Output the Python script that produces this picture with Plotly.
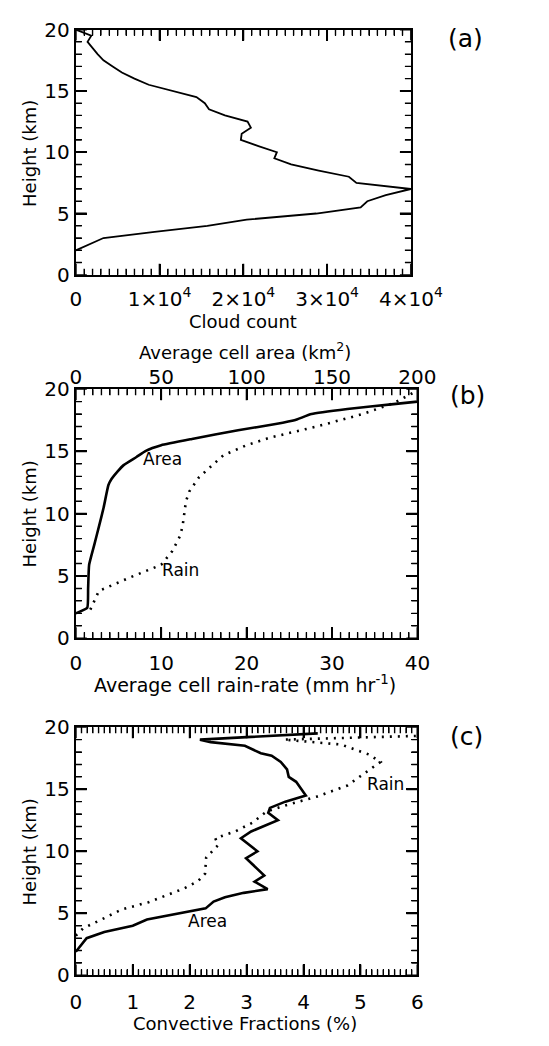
import plotly.graph_objects as go

# ---- data -------------------------------------------------------------
# (a) cloud count profile
a_height = [2.0, 2.5, 3.0, 3.5, 4.0, 4.5, 5.0, 5.5, 6.0, 6.5, 7.0, 7.5, 8.0,
            8.5, 9.0, 9.5, 10.0, 10.5, 11.0, 11.5, 12.0, 12.5, 13.0, 13.5,
            14.0, 14.5, 15.0, 15.5, 16.0, 16.5, 17.0, 17.5, 18.0, 18.5, 19.0,
            19.5, 20.0]
a_count = [0, 1700, 3300, 9400, 15700, 20400, 28700, 34000, 34800, 37000,
           40000, 33500, 32600, 29000, 25700, 23700, 24000, 21800, 19700,
           19800, 20900, 20500, 17800, 15900, 15400, 14400, 11600, 8700, 7000,
           5500, 4400, 3300, 2600, 2000, 1400, 1850, 0]

# (b) average cell area (top axis) and average cell rain-rate (bottom axis)
b_area_height = [2.0, 2.45, 4.0, 5.9, 7.5, 9.0, 10.5, 12.3, 12.8, 13.4, 13.9,
                 14.55, 15.05, 15.5, 16.0, 16.7, 17.2, 17.5, 18.0, 18.4, 18.8,
                 19.0]
b_area = [0.0, 6.7, 7.2, 7.8, 10.8, 13.6, 16.3, 19.1, 21.0, 24.5, 28.0,
          35.5, 41.0, 50.0, 68.0, 95.0, 117.0, 128.0, 138.0, 159.0, 186.0,
          200.0]

b_rain_height = [2.3, 3.0, 3.8, 4.9, 5.9, 7.0, 8.2, 9.0, 10.0, 11.0, 11.8,
                 12.9, 13.6, 14.7, 15.5, 16.1, 17.0, 18.0, 18.9, 19.7]
b_rain = [1.7, 2.2, 2.7, 6.4, 10.0, 11.3, 12.2, 12.5, 12.7, 12.9, 13.3,
          14.4, 15.5, 17.3, 20.0, 22.7, 28.2, 33.6, 37.3, 39.5]

# (c) convective fractions (%)
c_area_height = [1.9, 3.0, 3.5, 4.0, 4.5, 5.4, 5.95, 6.3, 6.65, 6.95, 7.55,
                 8.05, 9.45, 10.0, 11.05, 11.6, 12.5, 13.1, 13.5, 14.0, 14.5,
                 14.9, 15.6, 16.0, 16.6, 17.2, 17.7, 17.9, 18.5, 18.8, 19.0,
                 19.5]
c_area = [0.0, 0.19, 0.5, 1.0, 1.25, 2.28, 2.42, 2.62, 2.95, 3.37, 3.14, 3.31,
          2.99, 3.19, 2.9, 3.08, 3.55, 3.38, 3.41, 3.68, 4.04, 3.98, 3.87, 3.74,
          3.71, 3.6, 3.44, 3.25, 2.97, 2.37, 2.18, 4.25]

c_rain_height = [3.2, 3.8, 4.5, 5.3, 5.9, 7.0, 7.6, 8.2, 9.5, 10.5, 11.05,
                 11.6, 12.3, 13.2, 13.7, 14.4, 15.3, 16.2, 17.2, 17.8, 18.6,
                 19.0, 19.3]
c_rain = [0.0, 0.13, 0.45, 0.8, 1.28, 1.9, 2.15, 2.27, 2.29, 2.5, 2.45, 2.8,
          3.1, 3.35, 3.68, 4.23, 4.77, 5.05, 5.35, 5.15, 4.66, 3.66, 6.0]

count_ticks = [0, 10000, 20000, 30000, 40000]
count_labels = ["0", "1×10<sup>4</sup>", "2×10<sup>4</sup>",
                "3×10<sup>4</sup>", "4×10<sup>4</sup>"]

# ---- figure -----------------------------------------------------------
W, H = 549, 1046
FONT = "DejaVu Sans"
BLACK = "black"
DOTS = "2px,6px"
TICK_SIZE = 20
MAJOR_LEN, MINOR_LEN = 11, 6


def px(x):
    return x / W


def py(y):
    return 1 - y / H


fig = go.Figure()

fig.add_trace(go.Scatter(x=a_count, y=a_height, mode="lines",
                         line=dict(color=BLACK, width=1.8),
                         xaxis="x", yaxis="y", showlegend=False))
fig.add_trace(go.Scatter(x=b_area, y=b_area_height, mode="lines",
                         line=dict(color=BLACK, width=2.6, shape="spline",
                                   smoothing=0.4),
                         xaxis="x4", yaxis="y2", showlegend=False))
fig.add_trace(go.Scatter(x=b_rain, y=b_rain_height, mode="lines",
                         line=dict(color=BLACK, width=2.6, dash=DOTS),
                         xaxis="x2", yaxis="y2", showlegend=False))
fig.add_trace(go.Scatter(x=c_area, y=c_area_height, mode="lines",
                         line=dict(color=BLACK, width=2.6),
                         xaxis="x3", yaxis="y3", showlegend=False))
fig.add_trace(go.Scatter(x=c_rain, y=c_rain_height, mode="lines",
                         line=dict(color=BLACK, width=2.6, dash=DOTS),
                         xaxis="x3", yaxis="y3", showlegend=False))

x_dom_a = [px(75), px(435)]
x_dom_bc = [px(75), px(442)]


def minor(step):
    return dict(dtick=step, ticklen=MINOR_LEN, ticks="inside",
                tickcolor=BLACK, tickwidth=1.4)


fig.update_layout(
    width=W, height=H,
    margin=dict(l=0, r=0, t=0, b=0),
    paper_bgcolor="white", plot_bgcolor="white",
    xaxis=dict(domain=x_dom_a, anchor="y", range=[0, 40000],
               tickvals=count_ticks, ticktext=count_labels,
               ticklabelstandoff=5),
    yaxis=dict(domain=[py(269), py(18)], anchor="x", range=[0, 20], dtick=5),
    xaxis2=dict(domain=x_dom_bc, anchor="y2", range=[0, 40], dtick=10,
                ticklabelstandoff=6),
    yaxis2=dict(domain=[py(641), py(386)], anchor="x2", range=[0, 20],
                dtick=5),
    xaxis3=dict(domain=x_dom_bc, anchor="y3", range=[0, 6], dtick=1,
                ticklabelstandoff=8),
    yaxis3=dict(domain=[py(986), py(732)], anchor="x3", range=[0, 20],
                dtick=5),
    xaxis4=dict(overlaying="x2", anchor="y2", side="top", range=[0, 200],
                dtick=50, ticklabelstandoff=0),
)

# closed frame round each panel, with inward major and minor ticks
frame = dict(showline=True, linecolor=BLACK, linewidth=2, mirror="ticks",
             ticks="inside", ticklen=MAJOR_LEN, tickwidth=1.8,
             tickcolor=BLACK, showgrid=False, zeroline=False,
             tickfont=dict(family=FONT, size=TICK_SIZE, color=BLACK))
fig.update_xaxes(**frame)
fig.update_yaxes(**frame, minor=minor(1))
fig.layout.xaxis.minor = minor(1000)
fig.layout.xaxis2.minor = minor(1)
fig.layout.xaxis3.minor = minor(0.1)
fig.layout.xaxis4.update(showline=False, mirror=False, ticks="")


# the same tick marks laid down as shapes so they sit above the traces
def x_ticks(xref, yref, start, stop, step, major_every):
    n = int(round((stop - start) / step))
    for i in range(n + 1):
        v = start + i * step
        ln, wd = (MAJOR_LEN, 1.8) if i % major_every == 0 else (MINOR_LEN, 1.4)
        for anchor, sgn in ((0, 1), (1, -1)):
            fig.add_shape(type="line", xref=xref, yref=yref + " domain",
                          ysizemode="pixel", yanchor=anchor,
                          x0=v, x1=v, y0=0, y1=sgn * ln, layer="above",
                          line=dict(color=BLACK, width=wd))


def y_ticks(xref, yref, start, stop, step, major_every):
    n = int(round((stop - start) / step))
    for i in range(n + 1):
        v = start + i * step
        ln, wd = (MAJOR_LEN, 1.8) if i % major_every == 0 else (MINOR_LEN, 1.4)
        for anchor, sgn in ((0, 1), (1, -1)):
            fig.add_shape(type="line", xref=xref + " domain", yref=yref,
                          xsizemode="pixel", xanchor=anchor,
                          x0=0, x1=sgn * ln, y0=v, y1=v, layer="above",
                          line=dict(color=BLACK, width=wd))


x_ticks("x", "y", 0, 40000, 1000, 10)
y_ticks("x", "y", 0, 20, 1, 5)
x_ticks("x2", "y2", 0, 40, 1, 10)
y_ticks("x2", "y2", 0, 20, 1, 5)
x_ticks("x3", "y3", 0, 6, 0.1, 10)
y_ticks("x3", "y3", 0, 20, 1, 5)


def label(text, x, y, size=18, angle=0):
    fig.add_annotation(text=text, x=px(x), y=py(y), xref="paper",
                       yref="paper", showarrow=False, textangle=angle,
                       xanchor="center", yanchor="middle",
                       font=dict(family=FONT, size=size, color=BLACK))


# axis titles
label("Cloud count", 255, 317)
label("Average cell area (km<sup>2</sup>)", 257, 347)
label("Average cell rain-rate (mm hr<sup>-1</sup>)", 257, 688, size=19)
label("Convective Fractions (%)", 257, 1035)
for yc in (145, 514, 860):
    label("Height (km)", 25, yc, angle=-90)

# panel letters
label("(a)", 494, 27, size=25)
label("(b)", 496, 392, size=25)
label("(c)", 495, 742, size=25)

# curve labels
label("Area", 168, 457, size=17)
label("Rain", 187, 571, size=17)
label("Rain", 408, 790, size=17)
label("Area", 216, 930, size=17)

fig.write_html("out.html")
